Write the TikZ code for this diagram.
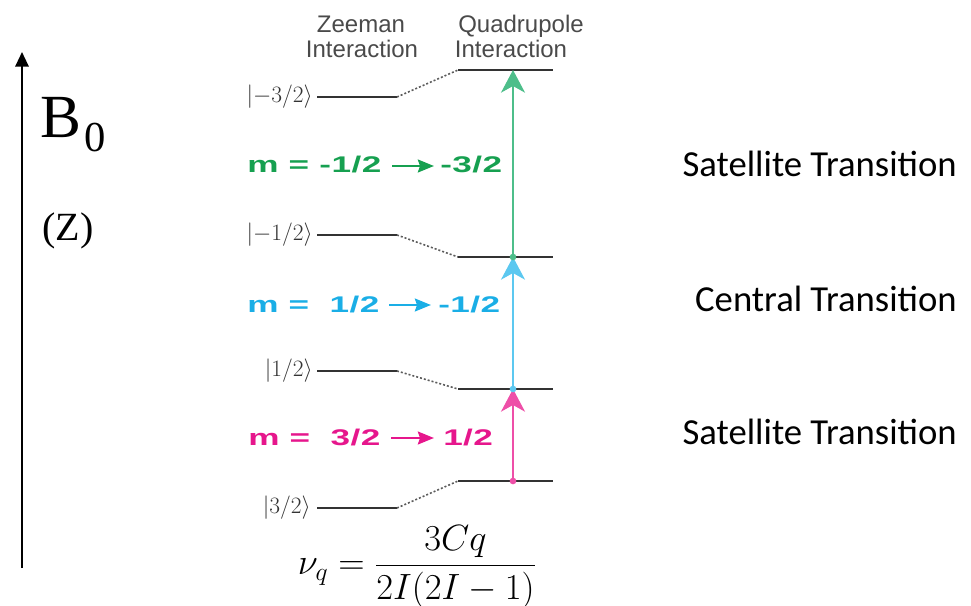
\RequirePackage{fix-cm}
\documentclass[tikz,border=0pt]{standalone}
\usepackage{fontspec}
\usetikzlibrary{arrows.meta}
\newfontfamily\timesf{Liberation Serif}
\newfontfamily\helv{Liberation Sans}
\newfontfamily\labf[FakeStretch=1.55,LetterSpace=2]{Liberation Sans Bold}
\newfontfamily\calib{Carlito}
\definecolor{gtext}{HTML}{16A050}
\definecolor{garr}{HTML}{4DBE8A}
\definecolor{btext}{HTML}{1AAEE6}
\definecolor{barr}{HTML}{5CC8F0}
\definecolor{ptext}{HTML}{E6168C}
\definecolor{parr}{HTML}{EE4FA8}
\definecolor{lvl}{HTML}{333333}
\definecolor{hdr}{HTML}{4A4A4A}
\tikzset{
  level/.style={draw=lvl, line width=1.4pt},
  dotline/.style={draw=lvl!80, line width=1.2pt, dash pattern=on 1.5pt off 1.5pt},
  ketlabel/.style={anchor=east, inner sep=0pt, text=lvl, font=\fontsize{17.6}{21}\selectfont},
  header/.style={anchor=base, inner sep=0pt, text=hdr, font=\helv\fontsize{18}{20}\selectfont},
  trans/.style={line width=1.3pt, -{Stealth[length=17pt,width=18pt,inset=5pt]}},
  mlabel/.style={anchor=base west, inner sep=0pt, font=\labf\fontsize{17}{20}\selectfont},
  marrow/.style={line width=2.2pt, -{Stealth[length=12pt,width=9.5pt,inset=1.5pt]}},
  side/.style={anchor=base east, inner sep=0pt, font=\calib\fontsize{27.5}{32}\selectfont},
  dot/.style={circle, inner sep=0pt, minimum size=5pt}
}
\begin{document}
\begin{tikzpicture}[x=0.75pt,y=-0.75pt]
\useasboundingbox (0,0) rectangle (971,606);

% axis
\coordinate (axb) at (22,568);
\coordinate (axt) at (22,52);
\draw[line width=1.6pt, -{Triangle[length=11pt,width=10pt]}] (axb) -- (axt);
\node[anchor=base west, inner sep=0pt, font=\timesf\fontsize{46}{50}\selectfont] (B) at (40,138) {B};
\node[anchor=base west, inner sep=0pt, font=\timesf\fontsize{32}{36}\selectfont] (B0) at ([xshift=2pt,yshift=-10.5pt]B.base east) {0};
\node[anchor=base west, inner sep=0pt, font=\timesf\fontsize{30}{34}\selectfont] (Z) at (42,240) {(Z)};

% headers
\node[header] (zee1) at (361,33) {Zeeman};
\node[header] (zee2) at (362,58) {Interaction};
\node[header] (quad1) at (521,33) {Quadrupole};
\node[header] (quad2) at (511,58) {Interaction};

% kets
\node[ketlabel] (k1) at (313,97) {$|{-}3/2\rangle$};
\node[ketlabel] (k2) at (313,235) {$|{-}1/2\rangle$};
\node[ketlabel] (k3) at (313,371) {$|1/2\rangle$};
\node[ketlabel] (k4) at (311,508) {$|3/2\rangle$};

% level coordinates
\coordinate (l1a) at (317,97);  \coordinate (l1b) at (397,97);
\coordinate (r1a) at (458,70);  \coordinate (r1b) at (553,70);
\coordinate (l2a) at (317,235); \coordinate (l2b) at (397,235);
\coordinate (r2a) at (458,257); \coordinate (r2b) at (553,257);
\coordinate (l3a) at (317,371); \coordinate (l3b) at (397,371);
\coordinate (r3a) at (458,389); \coordinate (r3b) at (553,389);
\coordinate (l4a) at (317,508); \coordinate (l4b) at (397,508);
\coordinate (r4a) at (458,481); \coordinate (r4b) at (553,481);

\foreach \i in {1,2,3,4}{
  \draw[level] (l\i a) -- (l\i b);
  \draw[dotline] (l\i b) -- (r\i a);
  \draw[level] (r\i a) -- (r\i b);
}

% transitions
\coordinate (a1) at (513,70);
\coordinate (a2) at (513,257);
\coordinate (a3) at (513,389);
\coordinate (a4) at (513,481);
\draw[trans, garr] (a2) -- (a1);
\draw[trans, barr] (a3) -- (a2);
\draw[trans, parr] (a4) -- (a3);
\node[dot, fill=garr] (d2) at (a2) {};
\node[dot, fill=barr] (d3) at (a3) {};
\node[dot, fill=parr] (d4) at (a4) {};

% transition labels
\node[mlabel, text=gtext] (g1) at (247,173) {m = -1/2};
\node[mlabel, text=gtext] (g2) at (440,173) {-3/2};
\draw[marrow, gtext] (392,166) -- (434,166);
\node[mlabel, text=btext] (b1) at (247,312) {m =\ \ 1/2};
\node[mlabel, text=btext] (b2) at (438,312) {-1/2};
\draw[marrow, btext] (389,305) -- (431,305);
\node[mlabel, text=ptext] (p1) at (248,445) {m =\ \ 3/2};
\node[mlabel, text=ptext] (p2) at (443,445) {1/2};
\draw[marrow, ptext] (391,438) -- (434,438);

% side texts
\node[side] (s1) at (957,176) {Satellite Transition};
\node[side] (s2) at (957,311) {Central Transition};
\node[side] (s3) at (957,444) {Satellite Transition};

% formula
\node[inner sep=0pt, font=\fontsize{27.4}{32}\selectfont] (f) at (417,567)
  {$\displaystyle \nu_q = \frac{3Cq}{2I(2I-1)}$};
\end{tikzpicture}
\end{document}
